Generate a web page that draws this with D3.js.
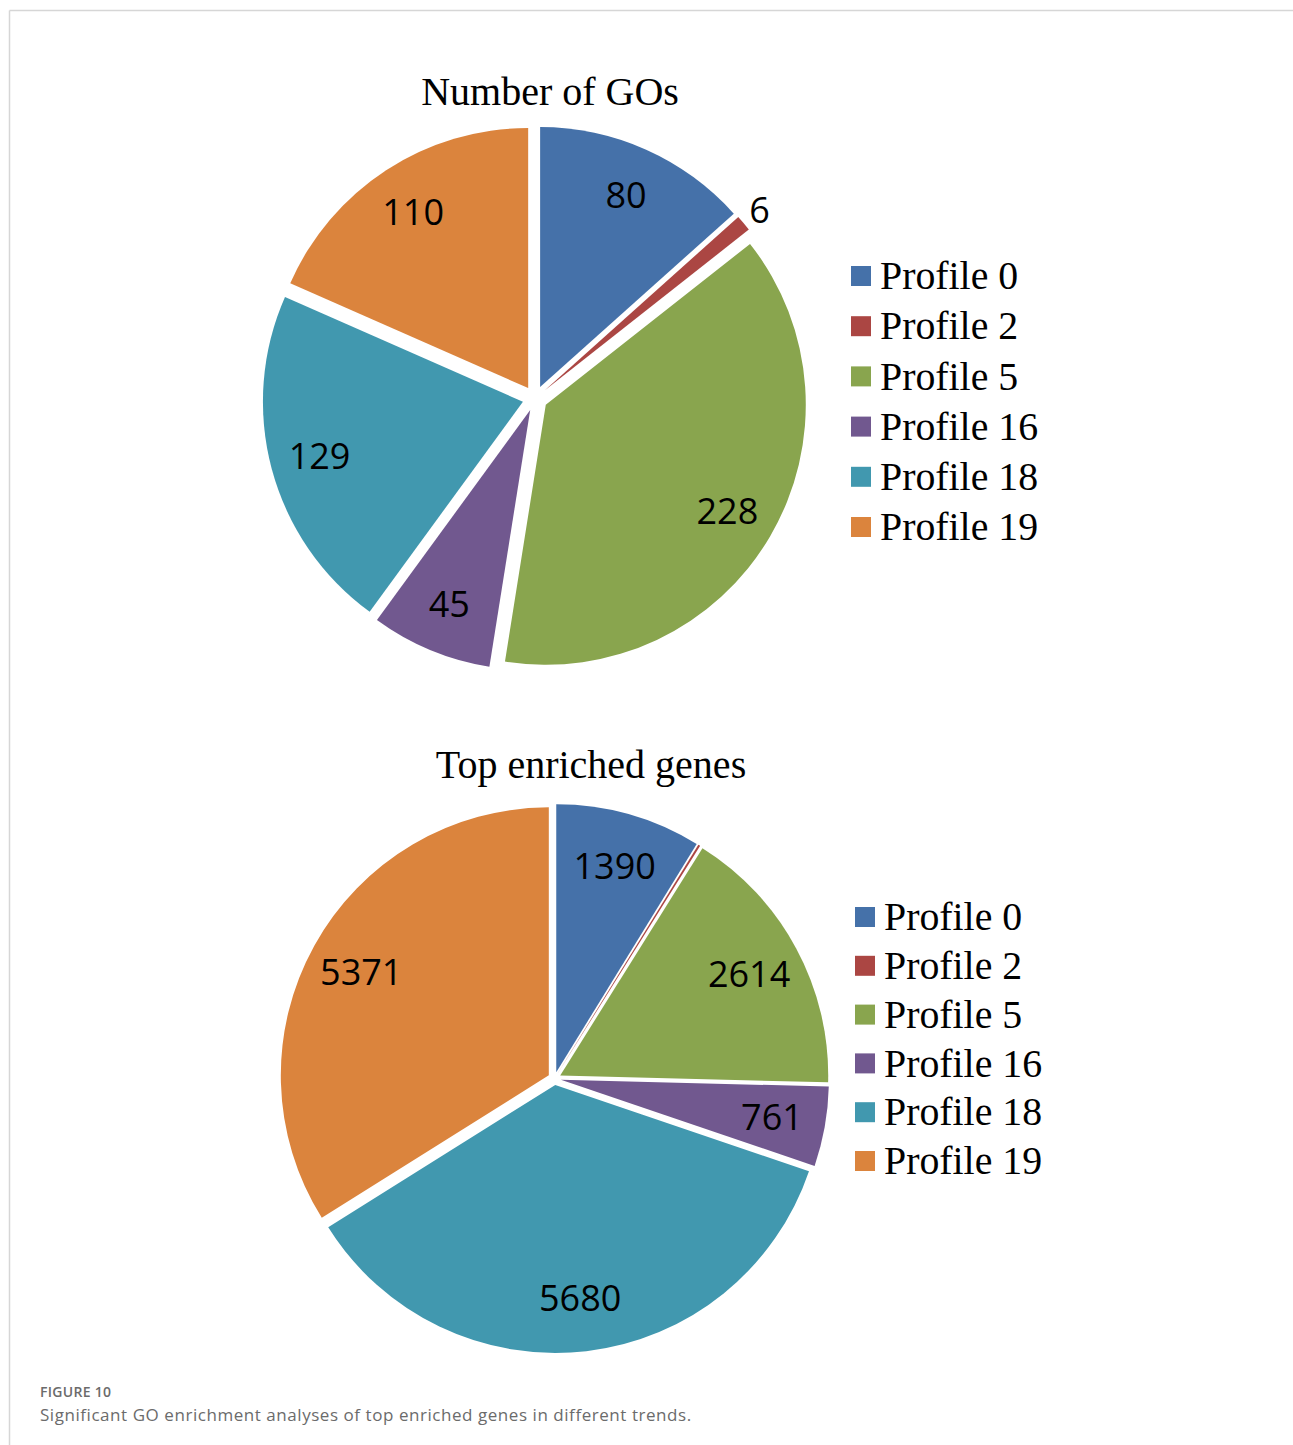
<!DOCTYPE html>
<html>
<head>
<meta charset="utf-8">
<script src="https://cdn.jsdelivr.net/npm/d3@7"></script>
<style>
  html, body { margin: 0; padding: 0; background: #fff; }
  svg { display: block; }
</style>
</head>
<body>
<script>
// Profile categories shared by both pies
const profiles = ["Profile 0", "Profile 2", "Profile 5", "Profile 16", "Profile 18", "Profile 19"];
// Number of significant GO terms per profile
const goCounts = [80, 6, 228, 45, 129, 110];
// Top enriched genes per profile
const geneCounts = [1390, 20, 2614, 761, 5680, 5371];
// Series colours (one per profile)
const colors = ["#4571A9", "#AB4643", "#89A54E", "#71588F", "#4198AF", "#DB843D"];

const W = 1293, H = 1445;
const svg = d3.select("body").append("svg").attr("width", W).attr("height", H);

// page frame
svg.append("line").attr("x1", 9.5).attr("y1", 10.5).attr("x2", W).attr("y2", 10.5)
  .attr("stroke", "#d6d6d6").attr("stroke-width", 1.5);
svg.append("line").attr("x1", 9.5).attr("y1", 10.5).attr("x2", 9.5).attr("y2", H)
  .attr("stroke", "#d6d6d6").attr("stroke-width", 1.5);

const color = d3.scaleOrdinal().domain(profiles).range(colors);

function drawPie(cfg) {
  const g = svg.append("g");
  g.append("text")
    .attr("x", cfg.titleX).attr("y", cfg.titleY)
    .attr("text-anchor", "middle")
    .attr("font-family", "'Liberation Serif', 'Times New Roman', serif")
    .attr("font-size", 40)
    .attr("fill", "#000")
    .text(cfg.title);

  const pie = d3.pie().sort(null).value(d => d.v);
  const arcs = pie(profiles.map((p, i) => ({ p, v: cfg.values[i] })));
  const arc = d3.arc().innerRadius(0).outerRadius(cfg.r);
  const inLabel = d3.arc().innerRadius(cfg.r * cfg.labelFrac).outerRadius(cfg.r * cfg.labelFrac);
  const outLabel = d3.arc().innerRadius(cfg.r * 1.08).outerRadius(cfg.r * 1.08);

  const pg = g.append("g").attr("transform", `translate(${cfg.cx},${cfg.cy})`);
  arcs.forEach(a => {
    const mid = (a.startAngle + a.endAngle) / 2;
    const ox = cfg.explode * Math.sin(mid), oy = -cfg.explode * Math.cos(mid);
    const sg = pg.append("g").attr("transform", `translate(${ox},${oy})`);
    sg.append("path").attr("d", arc(a)).attr("fill", color(a.data.p));
    const deg = (a.endAngle - a.startAngle) * 180 / Math.PI;
    if (deg < 2) return; // too thin to carry a label
    const pos = deg < 10 ? outLabel.centroid(a) : inLabel.centroid(a);
    sg.append("text")
      .attr("x", pos[0]).attr("y", pos[1]).attr("dy", "0.36em")
      .attr("text-anchor", "middle")
      .attr("font-family", "'Open Sans', 'Noto Sans', sans-serif")
      .attr("font-size", 36)
      .attr("fill", "#000")
      .text(a.data.v);
  });

  // legend
  const lg = g.append("g");
  profiles.forEach((p, i) => {
    const y = cfg.legY + i * cfg.legStep;
    lg.append("rect").attr("x", cfg.legX).attr("y", y - 10).attr("width", 20).attr("height", 20)
      .attr("fill", color(p));
    lg.append("text").attr("x", cfg.legX + 29).attr("y", y).attr("dy", "0.33em")
      .attr("font-family", "'Liberation Serif', 'Times New Roman', serif")
      .attr("font-size", 39.8)
      .attr("fill", "#000")
      .text(p);
  });
}

drawPie({
  title: "Number of GOs", titleX: 550, titleY: 105,
  values: goCounts, cx: 535, cy: 398.5, r: 260, explode: 12.5, labelFrac: 0.81,
  legX: 851, legY: 276, legStep: 50.2
});

drawPie({
  title: "Top enriched genes", titleX: 591, titleY: 778,
  values: geneCounts, cx: 554.5, cy: 1078.5, r: 268, explode: 6.5, labelFrac: 0.8,
  legX: 855, legY: 917, legStep: 48.8
});

// caption
svg.append("text").attr("x", 40).attr("y", 1397)
  .attr("font-family", "'Open Sans', 'Noto Sans', sans-serif")
  .attr("font-size", 14).attr("font-weight", 600).attr("fill", "#6b6b6b")
  .attr("letter-spacing", 0.3)
  .text("FIGURE 10");
svg.append("text").attr("x", 40).attr("y", 1421)
  .attr("font-family", "'Open Sans', 'Noto Sans', sans-serif")
  .attr("font-size", 17).attr("fill", "#6b6b6b")
  .attr("letter-spacing", 0.55)
  .text("Significant GO enrichment analyses of top enriched genes in different trends.");
</script>
</body>
</html>
